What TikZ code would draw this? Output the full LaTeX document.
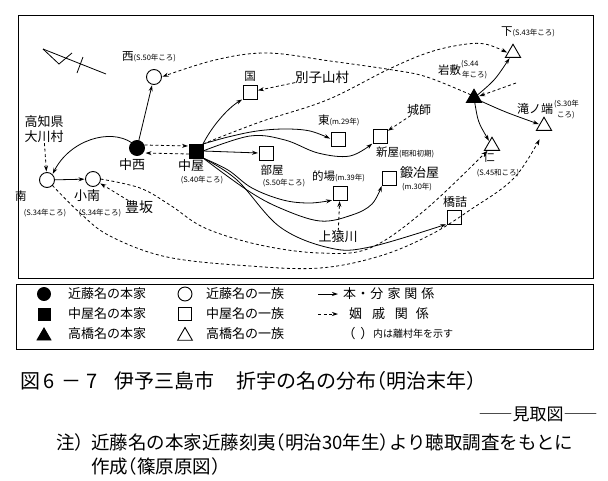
\documentclass[tikz,border=0pt]{standalone}
\usepackage{fontspec}
\setmainfont{Noto Sans CJK JP}[RawFeature=+halt]
\usetikzlibrary{arrows.meta,shapes.geometric}
\newcommand\fFam{\fontsize{11.5}{13}\selectfont}
\newcommand\fSm{\fontsize{7.5}{9}\selectfont}
\newcommand\fPl{\fontsize{13}{15}\selectfont}
\newcommand\fLeg{\fontsize{13}{15}\selectfont}
\newcommand\fCap{\fontsize{20}{22}\selectfont}
\newcommand\fNote{\fontsize{18.5}{20}\selectfont}
\begin{document}
\begin{tikzpicture}[x=1pt,y=-1pt,
  every node/.style={inner sep=0pt, outer sep=0pt},
  sq/.style={draw, rectangle, minimum size=14pt, line width=0.9pt},
  sqf/.style={sq, fill=black},
  ci/.style={draw, circle, minimum size=15pt, line width=0.9pt},
  cif/.style={ci, fill=black},
  tri/.style={draw, regular polygon, regular polygon sides=3, minimum size=17.5pt, line width=0.9pt},
  trif/.style={tri, fill=black},
  rel/.style={line width=0.8pt, -{Stealth[length=6pt,width=4pt]}, shorten >=1pt},
  kin/.style={rel, dash pattern=on 3pt off 2.5pt},
  frame/.style={line width=0.9pt}
  ]
\useasboundingbox (0,0) rectangle (608,480);

% frames
\draw[frame] (18,15) rectangle (593,278);
\draw[frame] (16,284) rectangle (593,349);

% north symbol
\draw[line width=0.8pt] (43,49) -- (106,74);
\draw[line width=0.8pt] (43,49) -- (59,64) -- (72,53);
\draw[line width=0.8pt] (77,73) -- (83,57);

% nodes
\node[ci] (nishi) at (154,77) {};
\node[cif] (nakanishi) at (137,148) {};
\node[sqf] (nakaya) at (196,151) {};
\node[ci] (minami) at (47,180) {};
\node[ci] (kominami) at (93,179) {};
\node[sq] (kuni) at (250,92) {};
\node[sq] (higashi) at (338,139) {};
\node[sq] (shinya) at (380,136) {};
\node[sq] (heya) at (266,153) {};
\node[sq] (matoba) at (340,193) {};
\node[sq] (kajiya) at (389,178) {};
\node[sq] (hashizume) at (454,217) {};
\node[trif] (iwashiki) at (474,98) {};
\node[tri] (shimo) at (513,53) {};
\node[tri] (takinohata) at (544,126) {};
\node[tri] (jin) at (492,146) {};

% labels
\node[anchor=west] (lnishi) at (122,57) {\fFam 西\fSm(S.50年ころ)};
\node (lkuni) at (250,76) {\fFam 国};
\node (lbesshi) at (322,77) {\fontsize{13.5}{15}\selectfont 別子山村};
\node[anchor=west] (lhigashi) at (318,120) {\fFam 東\fSm(m.29年)};
\node (ljoshi) at (419,110) {\fontsize{12}{14}\selectfont 城師};
\node[anchor=west] (lshinya) at (376,152) {\fFam 新屋\fSm(昭和初期)};
\node (lnakanishi) at (132,165) {\fPl 中西};
\node (lnakaya) at (191,166) {\fPl 中屋};
\node (lnakaya2) at (202,180) {\fSm(S.40年ころ)};
\node (lheya) at (272,170) {\fFam 部屋};
\node (lheya2) at (284,183) {\fSm(S.50年ころ)};
\node (lkochi) at (44,122) {\fPl 高知県};
\node (lokawa) at (44,137) {\fPl 大川村};
\node (lminami) at (21,196) {\fFam 南};
\node (lminami2) at (45,213) {\fSm(S.34年ころ)};
\node (lkominami) at (87,196) {\fPl 小南};
\node (lkominami2) at (100,213) {\fSm(S.34年ころ)};
\node (ltoyosaka) at (139,207) {\fontsize{14}{16}\selectfont 豊坂};
\node[anchor=west] (lmatoba) at (312,176) {\fFam 的場\fSm(m.39年)};
\node[anchor=west] (lkajiya) at (400,173) {\fPl 鍛冶屋};
\node (lkajiya2) at (417,187) {\fSm(m.30年)};
\node (lkamisaru) at (338,237) {\fPl 上猿川};
\node (lhashi) at (455,202) {\fontsize{12}{14}\selectfont 橋詰};
\node[anchor=west] (lshimo) at (501,32) {\fFam 下\fSm(S.43年ころ)};
\node[anchor=east] (liwa) at (461,70) {\fFam 岩敷};
\node[anchor=west] (liwa2) at (461,64) {\fSm(S.44};
\node[anchor=west] (liwa3) at (462,75) {\fSm 年ころ)};
\node[anchor=east] (ltaki) at (553,109) {\fontsize{12}{14}\selectfont 滝ノ端};
\node[anchor=west] (ltaki2) at (554,104) {\fSm(S.30年};
\node[anchor=west] (ltaki3) at (557,115.5) {\fSm ころ)};
\node (ljin) at (489,157) {\fFam 仁};
\node (ljin2) at (498,173) {\fSm(S.45和ころ)};

% solid: main/branch family
\draw[rel] (nakanishi) -- (nishi);
\draw[rel] (nakanishi.north west) .. controls (110,128) and (70,140) .. (minami.north east);
\draw[rel] (minami) -- (kominami);
\draw[rel] (nakaya.north east) .. controls (212,126) and (228,108) .. (kuni.south west);
\draw[rel] (nakaya.east) -- (heya.west);
\draw[rel] plot[smooth, tension=0.6] coordinates {(nakaya.north east) (228,137) (257,131) (285,129) (310,131) (higashi.west)};
\draw[rel] plot[smooth, tension=0.6] coordinates {(nakaya.east) (250,136) (285,140) (318,153) (350,156) (shinya.south west)};
\draw[rel] plot[smooth, tension=0.6] coordinates {(nakaya.south east) (228,170) (252,188) (283,200) (310,203) (matoba.south west)};
\draw[rel] plot[smooth, tension=0.6] coordinates {(nakaya.south east) (247,190) (280,208) (320,221) (352,215) (372,204) (kajiya.south west)};
\draw[rel] plot[smooth, tension=0.6] coordinates {(nakaya.south east) (237,180) (280,227) (330,248) (370,247) (hashizume.south west)};
\draw[rel] (iwashiki) .. controls (495,80) .. (shimo);
\draw[rel] (iwashiki) .. controls (505,112) .. (takinohata);
\draw[rel] (iwashiki) .. controls (478,122) .. (jin);

% dashed: marriage relations
\draw[kin] ([yshift=3pt]nakanishi.east) -- ([yshift=5pt]nakaya.west);
\draw[kin] ([yshift=-3pt]nakaya.west) -- ([yshift=-5pt]nakanishi.east);
\draw[kin] (lokawa) -- (minami);
\draw[kin] (ltoyosaka) -- (kominami);
\draw[kin] (lbesshi) -- (kuni);
\draw[kin] (ljoshi) -- (shinya);
\draw[kin] (lkamisaru) -- (matoba);
\coordinate (east1) at (516,83);
\draw[kin] (east1) -- (iwashiki);
\draw[kin] plot[smooth, tension=0.6] coordinates {(iwashiki.north west) (427,77) (393,70) (330,61) (267,53) (215,60) (nishi.east)};
\draw[kin] plot[smooth, tension=0.6] coordinates {(nakaya.north east) (260,122) (327,100) (387,70) (427,53) (460,45) (485,44) (shimo.west)};
\draw[kin] plot[smooth, tension=0.6] coordinates {(kominami.east) (140,188) (170,205) (205,228) (260,245) (320,253) (370,248) (425,210) (jin.south west)};
\draw[kin, shorten >=10pt] plot[smooth, tension=0.6] coordinates {(minami.south east) (80,213) (110,236) (167,257) (250,266) (320,268) (380,256) (430,235) (470,210) (515,177) (takinohata.south)};

% legend
\node[cif, minimum size=13pt] (lg1) at (44,294) {};
\node[sqf, minimum size=12pt] (lg2) at (44,314) {};
\node[trif, minimum size=16pt] (lg3) at (44,336) {};
\node[anchor=west] (lt1) at (68,294) {\fLeg 近藤名の本家};
\node[anchor=west] (lt2) at (68,314) {\fLeg 中屋名の本家};
\node[anchor=west] (lt3) at (68,334) {\fLeg 高橋名の本家};
\node[ci, minimum size=14pt] (lg4) at (185,294) {};
\node[sq, minimum size=13pt] (lg5) at (185,314) {};
\node[tri, minimum size=17pt] (lg6) at (185,336) {};
\node[anchor=west] (lt4) at (206,294) {\fLeg 近藤名の一族};
\node[anchor=west] (lt5) at (206,314) {\fLeg 中屋名の一族};
\node[anchor=west] (lt6) at (206,334) {\fLeg 高橋名の一族};
\coordinate (la1) at (318,294); \coordinate (la2) at (339,294);
\coordinate (lb1) at (318,314); \coordinate (lb2) at (339,314);
\draw[rel] (la1) -- (la2);
\draw[kin] (lb1) -- (lb2);
\node[anchor=west] (lt7) at (343,294) {\fLeg 本\hspace{4pt}・\hspace{4pt}分\hspace{4pt}家\hspace{4pt}関\hspace{4pt}係};
\node[anchor=west] (lt8) at (349,314) {\fLeg 姻\hspace{10pt}戚\hspace{10pt}関\hspace{8pt}係};
\node[anchor=west] (lt9) at (349,334) {\fLeg （\hspace{5pt}）};
\node[anchor=west] (lt10) at (373,334) {\fontsize{10}{12}\selectfont 内は離村年を示す};

% captions
\node[anchor=west] (cap1) at (20,381) {\fCap 図\hspace{3pt}6\hspace{7pt}－\hspace{5pt}7};
\node[anchor=west] (cap2) at (114,381) {\fCap 伊予三島市};
\node[anchor=west] (cap3) at (236,381) {\fCap 折宇の名の分布（明治末年）};
\node (cap4) at (538,414) {\fontsize{17}{19}\selectfont ――見取図――};
\node[anchor=west] (note1) at (56,442) {\fNote 注）};
\node[anchor=west] (note2) at (91,442) {\fNote 近藤名の本家近藤刻夷（明治30年生）より聴取調査をもとに};
\node[anchor=west] (note3) at (91,466) {\fNote 作成（篠原原図）};
\end{tikzpicture}
\end{document}
